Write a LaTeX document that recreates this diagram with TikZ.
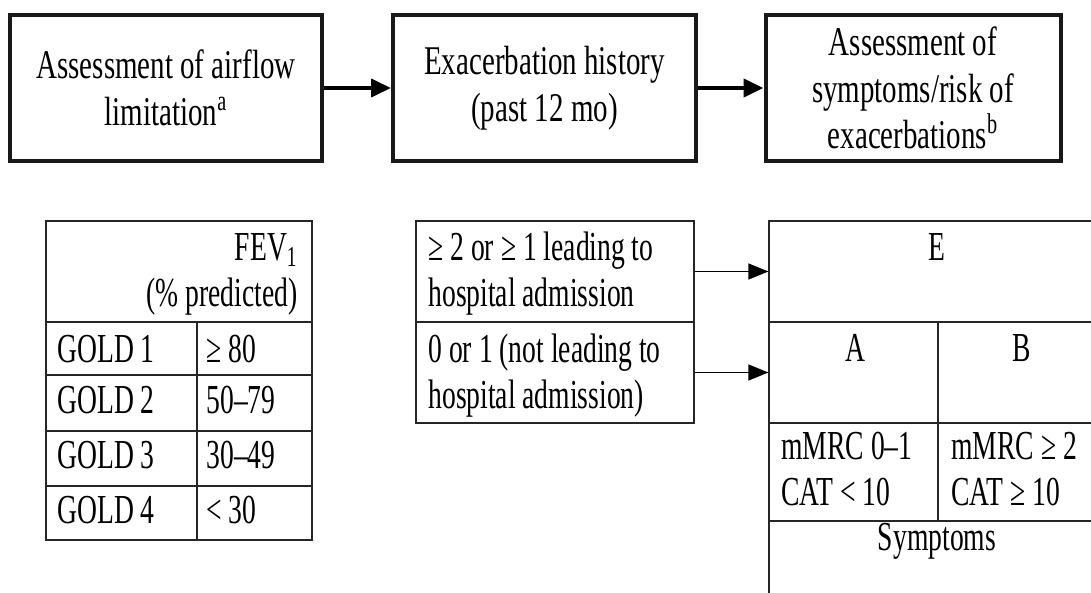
\documentclass[tikz,border=0pt]{standalone}
\usepackage{fontspec}
\setmainfont{Liberation Serif}
\newfontfamily\boxfont{Liberation Serif}[FakeStretch=0.71, Ligatures=TeX]
\newfontfamily\cellfont{Liberation Serif}[FakeStretch=0.67, Ligatures=TeX]
\usepackage{tikz}
\usetikzlibrary{positioning,calc,arrows.meta}

\tikzset{
    flowbox/.style={draw=black!90, line width=2pt, inner sep=0pt, align=center,
        font=\boxfont\fontsize{20.4}{23.25}\selectfont},
    cell/.style={draw=black!85, line width=0.6pt, inner sep=0pt},
    celltext/.style={inner sep=0pt, font=\cellfont\fontsize{20.6}{23}\selectfont},
    flowarrow/.style={line width=2pt, -{Triangle[length=10pt,width=9pt]}},
    cellarrow/.style={line width=0.6pt, -{Triangle[length=10pt,width=8pt]}}
}

\begin{document}
\begin{tikzpicture}[x=0.5pt, y=-0.5pt]
    \useasboundingbox (0,0) rectangle (1091,593);
    \clip (0,0) rectangle (1091,593);

    \node[flowbox, minimum width=156.25pt, minimum height=73pt] (airflow) at (166,88)
        {Assessment of airflow\\limitation\textsuperscript{a}};
    \node[flowbox, minimum width=151.5pt, minimum height=73pt] (history) at (544.5,88)
        {Exacerbation history\\(past 12 mo)};
    \node[flowbox, minimum width=147.5pt, minimum height=73pt] (risk) at (913,88)
        {Assessment of\\symptoms/risk of\\exacerbations\textsuperscript{b}};
    \draw[flowarrow] (airflow) -- (history);
    \draw[flowarrow] (history) -- (risk);

    % FEV1 table
    \draw[draw=black!85, line width=0.6pt] (46,221) rectangle (312,540);
    \draw[draw=black!85, line width=0.6pt] (46,322) -- (312,322);
    \draw[draw=black!85, line width=0.6pt] (46,375) -- (312,375);
    \draw[draw=black!85, line width=0.6pt] (46,431) -- (312,431);
    \draw[draw=black!85, line width=0.6pt] (46,486) -- (312,486);
    \draw[draw=black!85, line width=0.6pt] (197,322) -- (197,540);
    \node[celltext, anchor=base east, align=right] (fev) at (298,306)
        {FEV\textsubscript{1}\\(\% predicted)};
    \node[celltext, anchor=base west] (gold1) at (57,362) {GOLD 1};
    \node[celltext, anchor=base west] (gold2) at (57,413) {GOLD 2};
    \node[celltext, anchor=base west] (gold3) at (57,468) {GOLD 3};
    \node[celltext, anchor=base west] (gold4) at (57,523) {GOLD 4};
    \node[celltext, anchor=base west] (fev1) at (206,362) {≥ 80};
    \node[celltext, anchor=base west] (fev2) at (206,413) {50--79};
    \node[celltext, anchor=base west] (fev3) at (206,468) {30--49};
    \node[celltext, anchor=base west] (fev4) at (206,523) {< 30};

    % exacerbation history
    \node[cell, minimum width=139pt, minimum height=50.5pt] (hosp) at (555,271.5) {};
    \node[cell, minimum width=139pt, minimum height=50.5pt] (nohosp) at (555,372.5) {};
    \node[celltext, anchor=base west, align=left] (hosptext) at (428,306)
        {≥ 2 or ≥ 1 leading to\\hospital admission};
    \node[celltext, anchor=base west, align=left] (nohosptext) at (428,408)
        {0 or 1 (not leading to\\hospital admission)};

    % groups
    \node[cell, minimum width=169pt, minimum height=50.5pt] (groupE) at (938,271.5) {};
    \node[cell, minimum width=84.5pt, minimum height=50.5pt] (groupA) at (853.5,372.5) {};
    \node[cell, minimum width=84.5pt, minimum height=50.5pt] (groupB) at (1022.5,372.5) {};
    \node[cell, minimum width=84.5pt, minimum height=49pt] (symA) at (853.5,472) {};
    \node[cell, minimum width=84.5pt, minimum height=49pt] (symB) at (1022.5,472) {};
    \node[cell, minimum width=169pt, minimum height=59.5pt] (symptoms) at (938,580.5) {};
    \node[celltext, anchor=base] (etext) at (937,260) {E};
    \node[celltext, anchor=base] (atext) at (855,361) {A};
    \node[celltext, anchor=base] (btext) at (1022,361) {B};
    \node[celltext, anchor=base west, align=left] (symatext) at (781,505)
        {mMRC 0--1\\CAT < 10};
    \node[celltext, anchor=base west, align=left] (symbtext) at (951,505)
        {mMRC ≥ 2\\CAT ≥ 10};
    \node[celltext, anchor=base] (symtext) at (937,550) {Symptoms};

    \draw[cellarrow] (hosp) -- (groupE);
    \draw[cellarrow] (nohosp) -- (groupA);
\end{tikzpicture}
\end{document}
